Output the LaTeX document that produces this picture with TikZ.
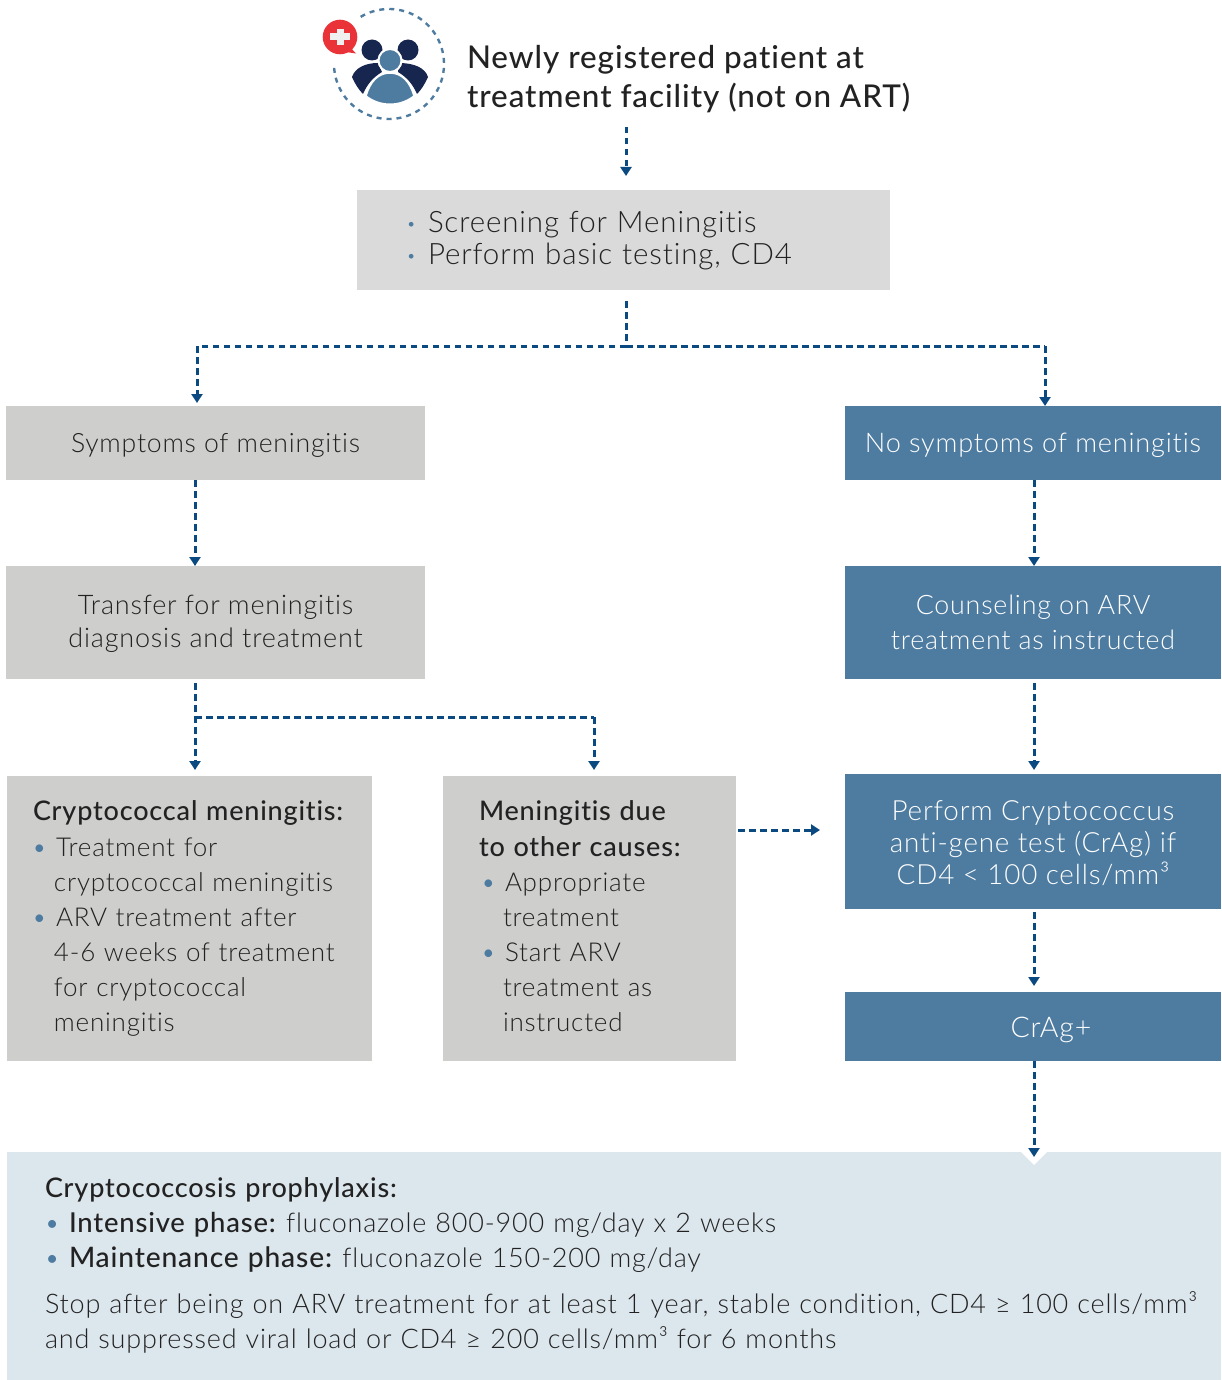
\documentclass[tikz,border=0pt]{standalone}
\usepackage{fontspec}
\setmainfont{Lato Light}[BoldFont=Lato Medium,LetterSpace=3,Ligatures=NoCommon]
\usetikzlibrary{arrows.meta,calc}
\definecolor{flowblue}{HTML}{0B4A80}
\definecolor{steel}{HTML}{4E7CA1}
\definecolor{navy}{HTML}{16264F}
\definecolor{greybox}{HTML}{CECECD}
\definecolor{lightgrey}{HTML}{DADADA}
\definecolor{pale}{HTML}{DCE6ED}
\definecolor{txt}{HTML}{222222}
\definecolor{alert}{HTML}{EA3338}
\newcommand{\bul}{\llap{\textcolor{steel}{\textbullet}\hspace{9pt}}}
\newcommand{\bulsmall}{\llap{\textcolor{steel}{\raisebox{3pt}{\fontsize{16}{16}\selectfont\textbullet}}\hspace{12pt}}}
\newcommand{\hd}[1]{{\fontsize{27}{35}\selectfont\textbf{#1}}}
\newcommand{\hdb}[2][28.2]{{\fontsize{#1}{35}\selectfont\textbf{#2}}\hspace{-4pt}}
\tikzset{
 x=1pt,y=-1pt,
 box/.style={rectangle,anchor=north west,inner sep=0pt,outer sep=0pt,text=txt},
 greyb/.style={box,fill=greybox,align=center},
 blueb/.style={box,fill=steel,text=white,align=center},
 flow/.style={draw=flowblue,line width=3pt,dash pattern=on 6.5pt off 4.5pt,-{Triangle[width=11pt,length=9pt]}},
 flowline/.style={draw=flowblue,line width=3pt,dash pattern=on 6.5pt off 4.5pt},
}
\begin{document}
\begin{tikzpicture}
\useasboundingbox (0,0) rectangle (1221,1380);
% icon
\draw[steel,line width=2.4pt,dash pattern=on 5pt off 5pt] plot[domain=121:-177,samples=90] ({389+55*cos(\x)},{64-55*sin(\x)});
\fill[navy] (372,50) circle (10.5);
\fill[navy] (408,50) circle (10.5);
\fill[navy] (352,77) .. controls (355,68) and (365,63) .. (378,63) -- (382,72) .. controls (372,78) and (367,85) .. (363,94) .. controls (359,90) and (355,84) .. (352,77) -- cycle;
\fill[navy] (428,77) .. controls (425,68) and (415,63) .. (398,63) -- (398,72) .. controls (408,78) and (413,85) .. (417,94) .. controls (421,90) and (425,84) .. (428,77) -- cycle;
\fill[steel,draw=white,line width=2pt] (390,60.5) circle (11.5);
\fill[steel,draw=white,line width=1.5pt] (366,96) .. controls (370,82) and (378,73) .. (390,73) .. controls (402,73) and (410,82) .. (414,96) .. controls (400,107) and (380,107) .. (366,96) -- cycle;
\fill[alert] (340,37) circle (17.3);
\fill[alert] (350,47) -- (356,53.5) -- (346,52) -- cycle;
\fill[white!94!black] (336.5,29) rectangle (343.5,45);
\fill[white!94!black] (330,33.5) rectangle (350,40.5);
% title
\node[box,anchor=north west,align=left,font=\fontsize{31.4}{39}\selectfont\bfseries] (title) at (467,45) {Newly registered patient at\\treatment facility (not on ART)};
% boxes
\node[box,fill=lightgrey,minimum width=533pt,minimum height=100pt,text width=533pt,align=left,font=\fontsize{29.5}{32}\selectfont] (screen) at (357,190) {\hspace{71pt}\bulsmall Screening for Meningitis\\\hspace{71pt}\bulsmall Perform basic testing, CD4\\[-28pt]\mbox{}};
\node[greyb,minimum width=419pt,minimum height=74pt,font=\fontsize{26.6}{33}\selectfont] (sym) at (6,406) {Symptoms of meningitis\\[-32pt]};
\node[blueb,minimum width=376pt,minimum height=74pt,font=\fontsize{27.1}{33}\selectfont] (nosym) at (845,406) {No symptoms of meningitis\\[-32pt]};
\node[greyb,minimum width=419pt,minimum height=113pt,font=\fontsize{27}{33}\selectfont] (transfer) at (6,566) {Transfer for meningitis\\diagnosis and treatment\\[-30pt]};
\node[blueb,minimum width=376pt,minimum height=113pt,font=\fontsize{26.8}{35}\selectfont] (counsel) at (845,566) {Counseling on ARV\\treatment as instructed};
\node[box,fill=greybox,minimum width=365pt,minimum height=285pt,align=left,text width=365pt,font=\fontsize{26}{35}\selectfont] (crypto) at (7,776) {\hspace{26pt}\hd{Cryptococcal meningitis:}\\[1pt]\hspace{49pt}\bul Treatment for\\\hspace{47pt}cryptococcal meningitis\\\hspace{49pt}\bul ARV treatment after\\\hspace{47pt}4-6 weeks of treatment\\\hspace{47pt}for cryptococcal\\\hspace{47pt}meningitis};
\node[box,fill=greybox,minimum width=293pt,minimum height=285pt,align=left,text width=293pt,font=\fontsize{26}{35}\selectfont] (other) at (443,776) {\hspace{36pt}\hd{Meningitis due}\\[1pt]\hspace{36pt}\hd{to other causes:}\\\hspace{62pt}\bul Appropriate\\\hspace{60pt}treatment\\\hspace{62pt}\bul Start ARV\\\hspace{60pt}treatment as\\\hspace{60pt}instructed\\[-31pt]\mbox{}};
\node[blueb,minimum width=376pt,minimum height=135pt,font=\fontsize{27.8}{32}\selectfont] (test) at (845,774) {Perform Cryptococcus\\anti-gene test (CrAg) if\\CD4 < 100 cells/mm³\\[-34pt]};
\node[blueb,minimum width=376pt,minimum height=69pt,font=\fontsize{28.5}{33}\selectfont] (pos) at (845,992) {\hspace{36pt}CrAg+\\[-34pt]};
\node[box,fill=pale,minimum width=1214pt,minimum height=228pt,align=left,text width=1214pt,font=\fontsize{27}{35}\selectfont] (proph) at (7,1152) {\hspace{38pt}\hd{Cryptococcosis prophylaxis:}\\\hspace{62pt}\bul\hdb[27.4]{Intensive phase:} fluconazole 800-900 mg/day x 2 weeks\\\hspace{62pt}\bul\hdb{Maintenance phase:} fluconazole 150-200 mg/day\\[11pt]\hspace{38pt}Stop after being on ARV treatment for at least 1 year, stable condition, CD4 ≥ 100 cells/mm³\\\hspace{38pt}and suppressed viral load or CD4 ≥ 200 cells/mm³ for 6 months\\[-29pt]\mbox{}};
\fill[white] (1021,1152) -- (1047,1152) -- (1034,1165) -- cycle;
% connectors
\coordinate (titleout) at (626,127);
\coordinate (branch) at (626,346);
\coordinate (leftturn) at (197,346);
\coordinate (rightturn) at (1045,346);
\coordinate (tsplit) at (195,717);
\coordinate (tturn) at (594,717);
\draw[flow] (titleout) -- ($(screen.north west)+(269,-14)$);
\draw[flowline] ($(screen.south west)+(269,11)$) -- (branch);
\draw[flowline] (branch) -- (leftturn);
\draw[flow] (leftturn) -- ($(sym.north west)+(191,-3)$);
\draw[flowline] (branch) -- (rightturn);
\draw[flow] (rightturn) -- ($(nosym.north west)+(200,0)$);
\draw[flow] ($(sym.south west)+(189,0)$) -- (transfer.north west -| tsplit);
\draw[flow] ($(nosym.south west)+(189,0)$) -- ($(counsel.north west)+(189,0)$);
\draw[flow] ($(transfer.south west)+(189,4)$) -- ($(crypto.north west)+(188,-6)$);
\draw[flowline] (tsplit) -- (tturn);
\draw[flow] (tturn) -- ($(other.north west)+(151,-6)$);
\draw[flow] ($(counsel.south west)+(189,4)$) -- ($(test.north west)+(189,-4)$);
\draw[flow] ($(other.north east)+(2,54)$) -- ($(test.north west)+(-25,56)$);
\draw[flow] ($(test.south west)+(189,3)$) -- ($(pos.north west)+(189,-6)$);
\draw[flow] ($(pos.south west)+(189,0)$) -- ($(proph.north west)+(1027,5)$);
\end{tikzpicture}
\end{document}
